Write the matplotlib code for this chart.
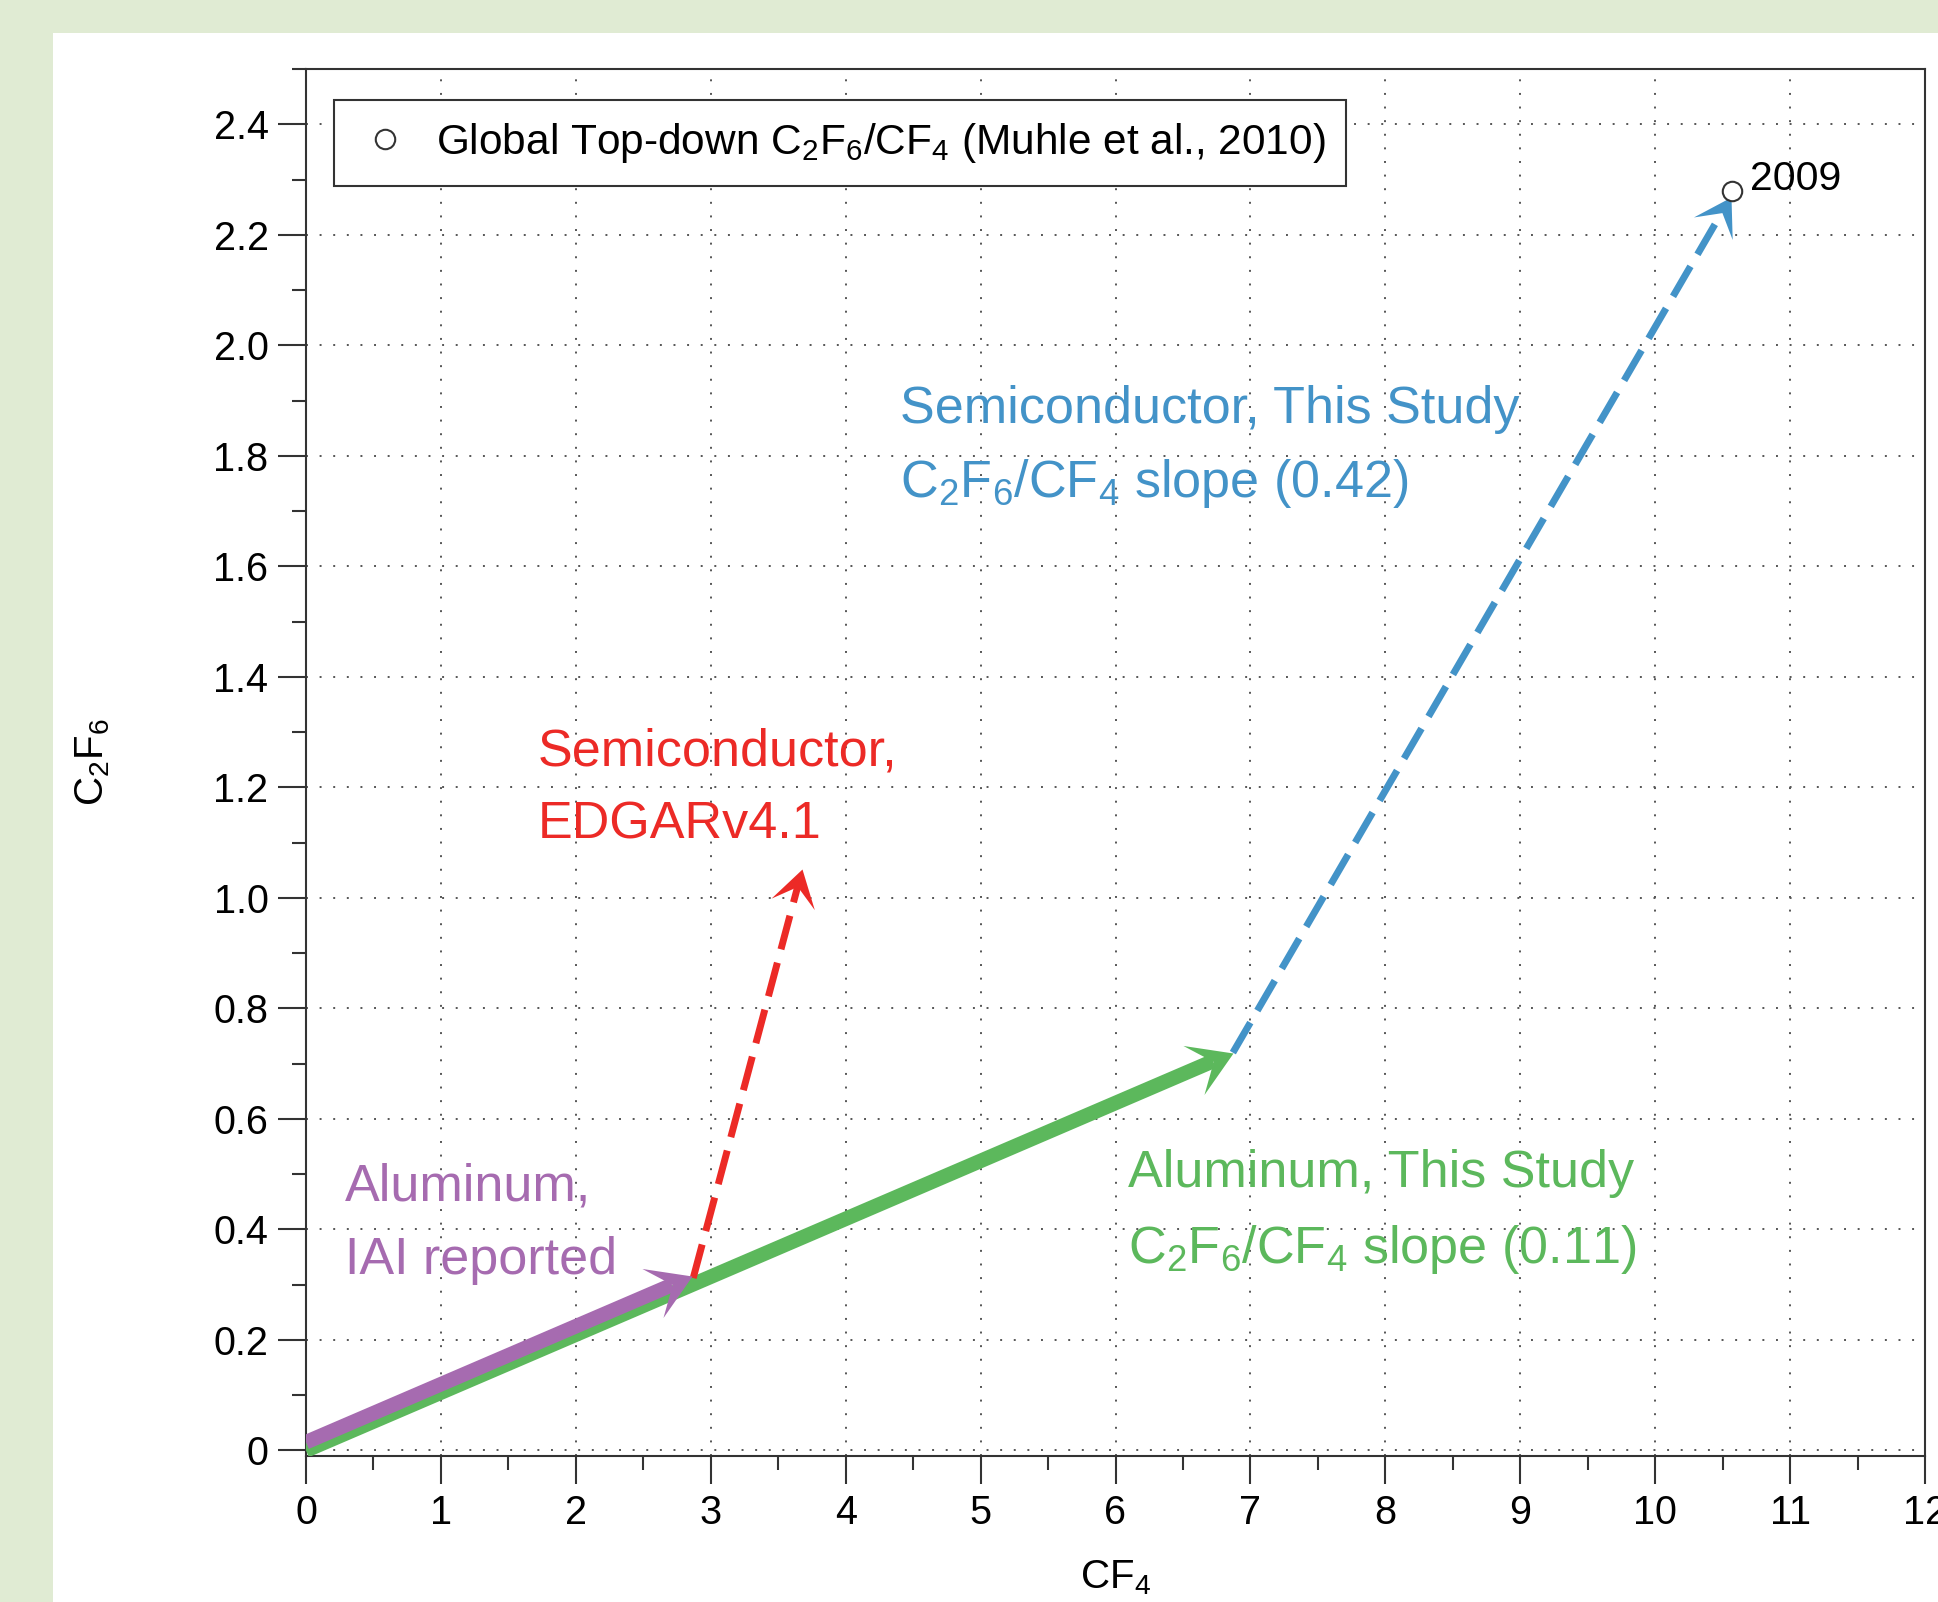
import numpy as np
import matplotlib
matplotlib.use("Agg")
import matplotlib.pyplot as plt
from matplotlib.path import Path
from matplotlib.markers import MarkerStyle
from matplotlib.transforms import Affine2D
from matplotlib.patches import Rectangle

plt.rcParams['font.family'] = ['Liberation Sans', 'DejaVu Sans']
plt.rcParams['mathtext.default'] = 'regular'

# --- values (CF4 on x, C2F6 on y) ---
al_iai_x = [0.0, 2.86]        # Aluminum, IAI reported
al_iai_y = [0.015, 0.315]
al_study_x = [0.0, 6.87]      # Aluminum, This Study (slope 0.11)
al_study_y = [0.0, 0.72]
semi_edgar_x = [2.87, 3.68]   # Semiconductor, EDGARv4.1
semi_edgar_y = [0.312, 1.053]
semi_study_x = [6.87, 10.56]  # Semiconductor, This Study (slope 0.42)
semi_study_y = [0.72, 2.268]

topdown_x = [10.57]           # Global top-down (Muhle et al., 2010)
topdown_y = [2.279]
topdown_year = ["2009"]

x_ticks = list(range(0, 13))
x_tick_labels = [str(v) for v in x_ticks]
y_ticks = [0, 0.2, 0.4, 0.6, 0.8, 1.0, 1.2, 1.4, 1.6, 1.8, 2.0, 2.2, 2.4]
y_tick_labels = ["0", "0.2", "0.4", "0.6", "0.8", "1.0", "1.2", "1.4",
                 "1.6", "1.8", "2.0", "2.2", "2.4"]

GREEN = "#5cb85c"
PURPLE = "#a66bb0"
RED = "#ec2a26"
BLUE = "#4393c8"
AXC = "#333333"

# --- figure / panel ---
fig = plt.figure(figsize=(19.38, 16.02), dpi=100)
fig.patch.set_facecolor("#e0ebd3")
fig.patches.append(Rectangle((53 / 1938, 0), 1 - 53 / 1938, 1569 / 1602,
                             transform=fig.transFigure, facecolor="white",
                             edgecolor="none", zorder=-1))

ax = fig.add_axes([306 / 1938, 146 / 1602, 1619 / 1938, 1387 / 1602])
ax.set_xlim(0, 12)
ax.set_ylim(-0.01, 2.5)

ax.set_xticks(x_ticks)
ax.set_xticklabels(x_tick_labels)
ax.set_xticks(np.arange(0.5, 12, 1.0), minor=True)
ax.set_yticks(y_ticks)
ax.set_yticklabels(y_tick_labels)
ax.set_yticks(np.arange(0.1, 2.55, 0.2), minor=True)
ax.tick_params(which="major", length=20, width=1.5, color=AXC, labelsize=28.5, pad=7)
ax.tick_params(which="minor", length=10, width=1.5, color=AXC)
for s in ax.spines.values():
    s.set_linewidth(1.5)
    s.set_color(AXC)

ax.grid(True, which="major", linestyle=(0, (1, 6)), color="#555555", linewidth=1.4)
ax.set_axisbelow(True)

ax.set_xlabel("CF$_4$", fontsize=29)
ax.xaxis.set_label_coords(0.5, -0.074)
ax.set_ylabel("C$_2$F$_6$", fontsize=29)
ax.yaxis.set_label_coords(-0.12, 0.5)

# --- arrows ---
HEAD = Path([(0, 0), (-1, 0.62), (-0.5, 0), (-1, -0.62), (0, 0)],
            [Path.MOVETO, Path.LINETO, Path.LINETO, Path.LINETO, Path.CLOSEPOLY])


def arrow(xs, ys, color, lw, ls, head_ms, z):
    p0 = ax.transData.transform((xs[0], ys[0]))
    p1 = ax.transData.transform((xs[1], ys[1]))
    d = p1 - p0
    u = d / np.hypot(*d)
    ang = np.degrees(np.arctan2(d[1], d[0]))
    back = 0.25 * head_ms * fig.dpi / 72  # tip -> notch, pixels
    end = ax.transData.inverted().transform(p1 - u * back)
    ax.plot([xs[0], end[0]], [ys[0], end[1]], color=color, lw=lw, linestyle=ls,
            solid_capstyle="butt", dash_capstyle="butt", zorder=z)
    m = MarkerStyle(HEAD, transform=Affine2D().rotate_deg(ang))
    ax.plot([xs[1]], [ys[1]], marker=m, ms=head_ms, mfc=color, mec=color, mew=0,
            linestyle="none", zorder=z)


arrow(al_study_x, al_study_y, GREEN, 10.5, "-", 62, 3)
arrow(semi_edgar_x, semi_edgar_y, RED, 5, (0, (5, 2)), 52, 3)
arrow(al_iai_x, al_iai_y, PURPLE, 10.5, "-", 62, 4)
arrow(semi_study_x, semi_study_y, BLUE, 5, (0, (5, 2)), 52, 3)

ax.plot(topdown_x, topdown_y, "o", ms=14, mfc="white", mec="#333333", mew=1.5,
        linestyle="none", zorder=5,
        label="Global Top-down C$_2$F$_6$/CF$_4$ (Muhle et al., 2010)")
for x, y, t in zip(topdown_x, topdown_y, topdown_year):
    ax.annotate(t, (x, y), xytext=(13, 1), textcoords="offset points",
                fontsize=29.5, va="baseline", ha="left")

# --- labels ---
fs = 37.5
ax.text(4.40, 1.859, "Semiconductor, This Study", color=BLUE, fontsize=fs, va="baseline")
ax.text(4.40, 1.725, "C$_2$F$_6$/CF$_4$ slope (0.42)", color=BLUE, fontsize=fs, va="baseline")
ax.text(1.72, 1.240, "Semiconductor,", color=RED, fontsize=fs, va="baseline")
ax.text(1.72, 1.108, "EDGARv4.1", color=RED, fontsize=fs, va="baseline")
ax.text(0.29, 0.4525, "Aluminum,", color=PURPLE, fontsize=fs, va="baseline")
ax.text(0.29, 0.320, "IAI reported", color=PURPLE, fontsize=fs, va="baseline")
ax.text(6.09, 0.476, "Aluminum, This Study", color=GREEN, fontsize=fs, va="baseline")
ax.text(6.09, 0.340, "C$_2$F$_6$/CF$_4$ slope (0.11)", color=GREEN, fontsize=fs, va="baseline")

leg = ax.legend(loc="upper left", bbox_to_anchor=(0.0173, 0.9777), borderaxespad=0,
                fancybox=False, framealpha=1, edgecolor="#333333", fontsize=30.5,
                handlelength=1.4, handletextpad=0.5, borderpad=0.5, numpoints=1)
leg.get_frame().set_linewidth(1.5)

fig.savefig("out.png", dpi=100, facecolor=fig.get_facecolor())
